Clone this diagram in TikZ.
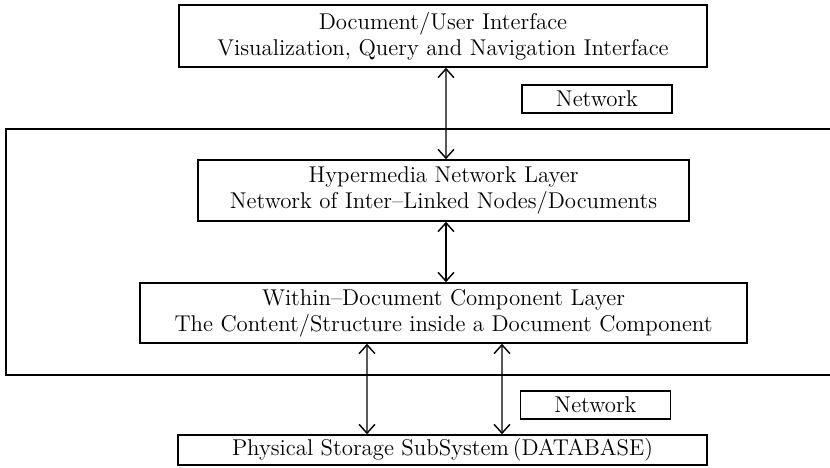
\documentclass[tikz,border=0pt]{standalone}
\usepackage{xcolor}
\usepackage{tikz}
\usetikzlibrary{arrows.meta}
\pgfdeclarelayer{nodelayer}
\pgfdeclarelayer{edgelayer}
\pgfsetlayers{edgelayer,nodelayer,main}
\tikzstyle{layer box}=[fill=white, draw=black, shape=rectangle, line width=0.9pt, align=center, inner sep=0pt, font=\fontsize{13}{15}\selectfont]
\tikzstyle{net box}=[fill=white, draw=black, shape=rectangle, line width=0.9pt, inner sep=0pt, minimum width=3cm, minimum height=0.56cm, font=\fontsize{13}{15}\selectfont]
\tikzstyle{none}=[fill=none, draw=none, shape=circle, scale=0]
\tikzstyle{both ways edge}=[draw=black, line width=0.8pt, {Straight Barb[length=5pt,width=9pt]}-{Straight Barb[length=5pt,width=9pt]}]
\tikzstyle{frame edge}=[draw=black, line width=0.9pt]

\begin{document}
\begin{tikzpicture}
	\useasboundingbox (0, 0) rectangle (16.6, -9.36);
	\begin{pgfonlayer}{nodelayer}
		\node [style=layer box, minimum width=10.56cm, minimum height=1.24cm] (0) at (8.86, -0.72) {Document/User Interface\\Visualization, Query and Navigation Interface};
		\node [style=net box] (1) at (11.94, -1.98) {Network};
		\node [style=layer box, minimum width=9.82cm, minimum height=1.22cm] (2) at (8.87, -3.81) {Hypermedia Network Layer\\Network of Inter--Linked Nodes/Documents};
		\node [style=layer box, minimum width=12.14cm, minimum height=1.2cm] (3) at (8.87, -6.26) {Within--Document Component Layer\\The Content/Structure inside a Document Component};
		\node [style=net box] (4) at (11.91, -8.1) {Network};
		\node [style=layer box, minimum width=10.58cm, minimum height=0.6cm] (5) at (8.85, -9.0) {Physical Storage SubSystem\,(DATABASE)};
		\node [style=none] (6) at (16.6, -2.58) {};
		\node [style=none] (7) at (0.12, -2.58) {};
		\node [style=none] (8) at (0.12, -7.5) {};
		\node [style=none] (9) at (16.6, -7.5) {};
	\end{pgfonlayer}
	\begin{pgfonlayer}{edgelayer}
		\draw [style=frame edge] (6.center) -- (7.center) -- (8.center) -- (9.center);
		\draw [style=both ways edge] ([xshift=0.06cm]0.south) to ([xshift=0.05cm]2.north);
		\draw [style=both ways edge] ([xshift=0.05cm]2.south) to ([xshift=0.05cm]3.north);
		\draw [style=both ways edge] ([xshift=-1.53cm]3.south) to ([xshift=-1.51cm]5.north);
		\draw [style=both ways edge] ([xshift=1.17cm]3.south) to ([xshift=1.19cm]5.north);
	\end{pgfonlayer}
\end{tikzpicture}
\end{document}
